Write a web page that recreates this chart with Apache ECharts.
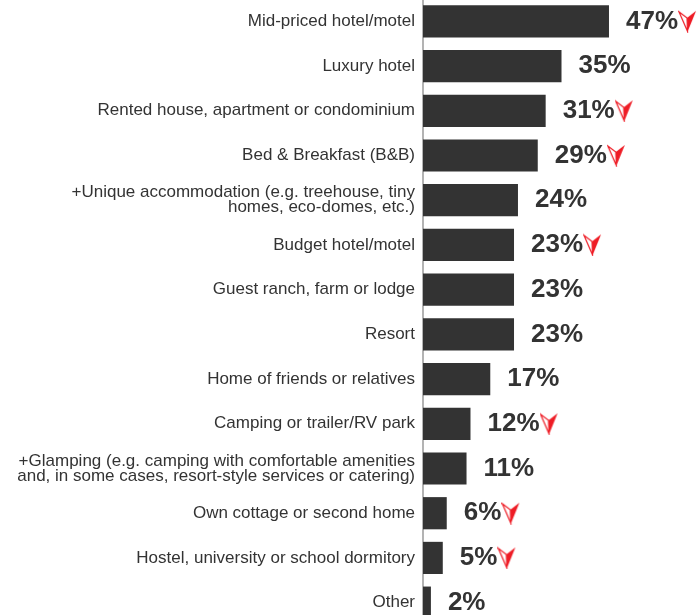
<!DOCTYPE html>
<html>
<head>
<meta charset="utf-8">
<script src="https://cdn.jsdelivr.net/npm/echarts@6/dist/echarts.min.js"></script>
<style>
  html, body { margin: 0; padding: 0; background: #ffffff; overflow: hidden; }
  #chart { position: absolute; left: 0; top: -1px; width: 700px; height: 640px; }
</style>
</head>
<body>
<div id="chart"></div>
<script>
const categories = [
  "Mid-priced hotel/motel",
  "Luxury hotel",
  "Rented house, apartment or condominium",
  "Bed & Breakfast (B&B)",
  "+Unique accommodation (e.g. treehouse, tiny\nhomes, eco-domes, etc.)",
  "Budget hotel/motel",
  "Guest ranch, farm or lodge",
  "Resort",
  "Home of friends or relatives",
  "Camping or trailer/RV park",
  "+Glamping (e.g. camping with comfortable amenities\nand, in some cases, resort-style services or catering)",
  "Own cottage or second home",
  "Hostel, university or school dormitory",
  "Other"
];
const values = [47, 35, 31, 29, 24, 23, 23, 23, 17, 12, 11, 6, 5, 2];
// true = shown with the red "down" marker
const declined = [true, false, true, true, false, true, false, false, false, true, false, true, true, false];

// red arrow marker drawn on a small canvas, used as rich text background
function makeArrow() {
  const c = document.createElement("canvas");
  c.width = 19;
  c.height = 23;
  const ctx = c.getContext("2d");
  // left half: outline only
  ctx.strokeStyle = "#ee1c25";
  ctx.lineWidth = 1.2;
  ctx.beginPath();
  ctx.moveTo(1, 2);
  ctx.lineTo(9, 8);
  ctx.lineTo(9.5, 21.5);
  ctx.closePath();
  ctx.stroke();
  // right half: filled
  ctx.fillStyle = "#ee1c25";
  ctx.beginPath();
  ctx.moveTo(9, 8);
  ctx.lineTo(18, 1);
  ctx.lineTo(9.5, 22);
  ctx.closePath();
  ctx.fill();
  return c;
}
const arrowImg = makeArrow();

const chart = echarts.init(document.getElementById("chart"));

const option = {
  animation: false,
  grid: {
    left: 423,
    right: 0,
    top: 0,
    height: 626,
    containLabel: false
  },
  xAxis: {
    type: "value",
    min: 0,
    max: 70,
    show: false
  },
  yAxis: {
    type: "category",
    inverse: true,
    data: categories,
    axisLine: {
      show: true,
      lineStyle: { color: "#9a9a9a", width: 1.5 }
    },
    axisTick: { show: false },
    axisLabel: {
      margin: 8,
      fontFamily: "Liberation Sans, Arial, sans-serif",
      fontSize: 17,
      color: "#333333",
      lineHeight: 15,
      align: "right"
    }
  },
  series: [
    {
      type: "bar",
      data: values,
      barWidth: "72%",
      itemStyle: { color: "#333333" },
      label: {
        show: true,
        position: "right",
        distance: 17,
        formatter: function (p) {
          let s = "{v|" + p.value + "%}";
          if (declined[p.dataIndex]) s += "{a|}";
          return s;
        },
        rich: {
          v: {
            fontFamily: "Liberation Sans, Arial, sans-serif",
            fontSize: 26,
            fontWeight: "bold",
            color: "#333333"
          },
          a: {
            width: 19,
            height: 23,
            backgroundColor: { image: arrowImg }
          }
        }
      }
    }
  ]
};

chart.setOption(option);
</script>
</body>
</html>
